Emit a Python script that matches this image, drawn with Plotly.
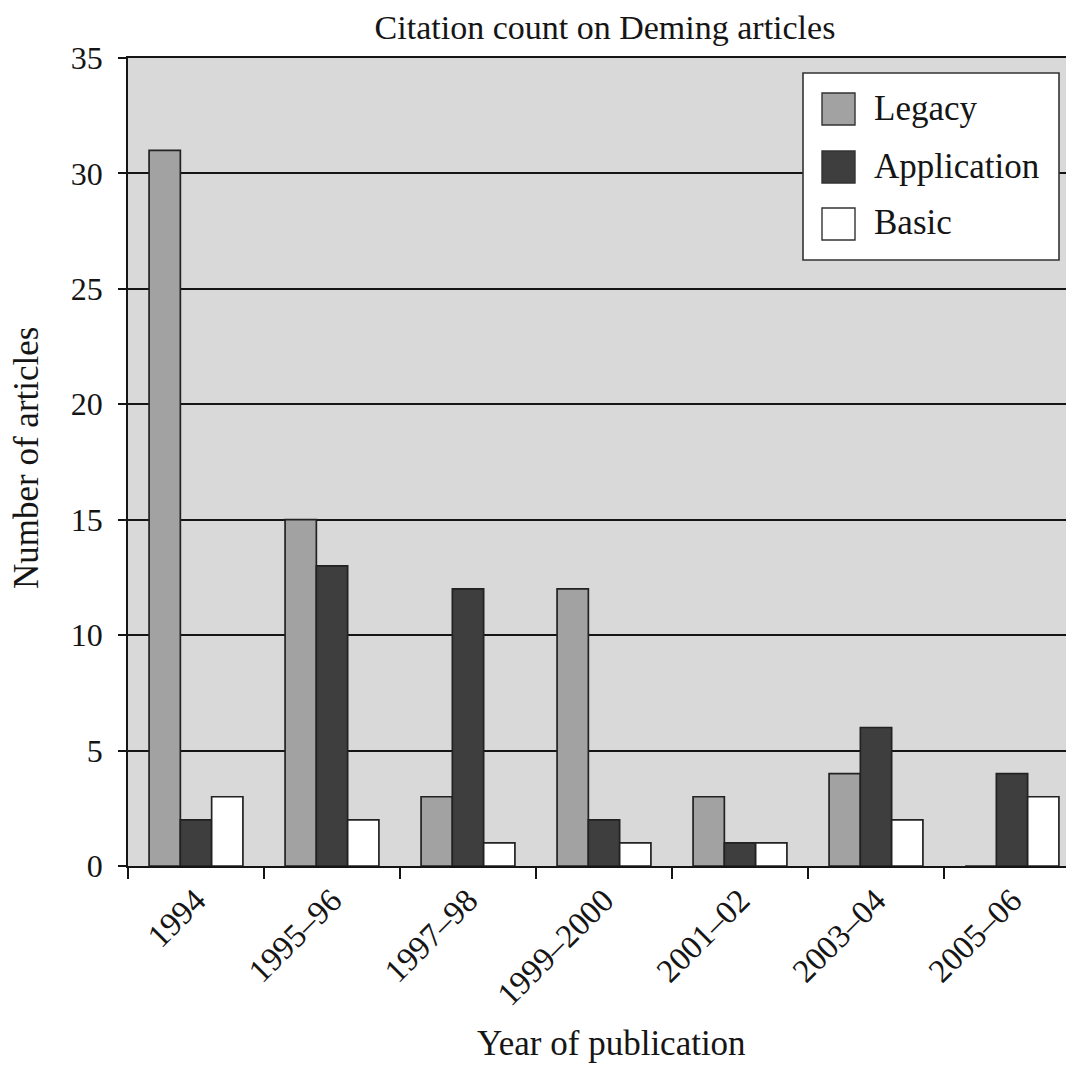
import plotly.graph_objects as go

categories = ["1994", "1995–96", "1997–98", "1999–2000", "2001–02", "2003–04", "2005–06"]
series_names = ["Legacy", "Application", "Basic"]
legacy = [31, 15, 3, 12, 3, 4, 0]
application = [2, 13, 12, 2, 1, 6, 4]
basic = [3, 2, 1, 1, 1, 2, 3]
colors = ["#a2a2a2", "#3e3e3e", "#ffffff"]

FONT = "Liberation Serif, Times New Roman, serif"
INK = "#151515"
OUTLINE = "#222222"

# figure geometry (page body has an 8px margin)
W, H = 1066, 1057
L, T, B, R = 120, 50, 199, 0
PW, PH = W - L - R, H - T - B


def px(xp):  # page x -> paper x
    return (xp - 8 - L) / PW


def py(yp):  # page y -> paper y
    return (H - B - (yp - 8)) / PH


fig = go.Figure()
for name, vals, col in zip(series_names, [legacy, application, basic], colors):
    fig.add_trace(go.Bar(name=name, x=categories, y=vals, showlegend=False,
                         marker=dict(color=col, line=dict(color=OUTLINE, width=1.7))))

shapes = []
annotations = []
# custom legend box
shapes.append(dict(type="rect", xref="paper", yref="paper", x0=px(803), x1=px(1059),
                   y0=py(260), y1=py(73), fillcolor="white",
                   line=dict(color="#333333", width=1.6), layer="above"))
sw_tops = [93, 151, 208]
for name, col, top in zip(series_names, colors, sw_tops):
    shapes.append(dict(type="rect", xref="paper", yref="paper", x0=px(822), x1=px(855),
                       y0=py(top + 32), y1=py(top), fillcolor=col,
                       line=dict(color="#333333", width=1.4), layer="above"))
    annotations.append(dict(text=name, xref="paper", yref="paper", x=px(872), y=py(top + 15),
                            xanchor="left", yanchor="middle", showarrow=False,
                            font=dict(size=35, family=FONT, color=INK)))

# axis titles
annotations.append(dict(text="Year of publication", xref="paper", yref="paper",
                        x=px(611), y=py(1043), xanchor="center", yanchor="middle",
                        showarrow=False, font=dict(size=35, family=FONT, color=INK)))
annotations.append(dict(text="Number of articles", xref="paper", yref="paper",
                        x=px(26), y=py(458), xanchor="center", yanchor="middle", textangle=-90,
                        showarrow=False, font=dict(size=35, family=FONT, color=INK)))

fig.update_layout(
    width=W, height=H,
    margin=dict(l=L, r=R, t=T, b=B, pad=0),
    paper_bgcolor="white", plot_bgcolor="#d9d9d9",
    barmode="group", bargap=0.31, bargroupgap=0,
    font=dict(family=FONT, color=INK, size=32),
    title=dict(text="Citation count on Deming articles", x=(605 - 8) / W, xanchor="center",
               xref="container", y=1 - (27 - 8) / H, yanchor="middle", font=dict(size=34)),
    showlegend=False,
    shapes=shapes,
    annotations=annotations,
)
fig.update_xaxes(
    range=[-0.5, 6.5 - 6 / 136], showgrid=False, showline=True, linecolor=INK, linewidth=1.6,
    mirror=True, ticks="outside", tickson="boundaries", ticklen=11, tickwidth=1.6,
    tickcolor=INK, tickangle=-45, tickfont=dict(size=33),
)
fig.update_yaxes(
    range=[0, 35], dtick=5, showgrid=True, gridcolor=INK, gridwidth=1.5,
    showline=True, linecolor=INK, linewidth=1.6, ticks="outside", ticklen=8,
    tickwidth=1.6, tickcolor=INK, tickfont=dict(size=32), zeroline=False,
    ticklabelstandoff=9,
)
fig.write_html("out.html")
